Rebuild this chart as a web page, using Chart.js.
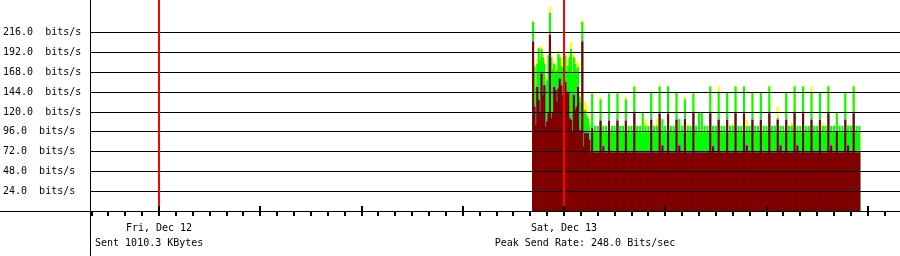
<!DOCTYPE html>
<html>
<head>
<meta charset="utf-8">
<script src="https://cdn.jsdelivr.net/npm/chart.js@4/dist/chart.umd.min.js"></script>
<style>
  body { margin: 0; background: #fff; }
  canvas { display: block; }
</style>
</head>
<body>
<canvas id="rate-chart" width="900" height="256"></canvas>
<script>
// hours relative to Fri, Dec 12 00:00
var firstSampleHour = 22 + 10 / 60;
var sampleStepHours = 5 / 60;
var dayTicks = [0, 24];
var dayLabels = ["Fri, Dec 12", "Sat, Dec 13"];
var yTicks = [24, 48, 72, 96, 120, 144, 168, 192, 216];

// dark red layer (bits/s), one value per 5 minute sample
var redRate = [
  205,126,104,150,134,120,166,140,152,102,108,118,
  213,112,118,150,146,132,148,160,152,140,150,156,
  142,144,112,110,96,140,122,126,150,98,96,205,
  78,94,94,94,86,70.5,100,70.5,70.5,70.5,70.5,70.5,
  109,70.5,78,70.5,70.5,70.5,109,70.5,70.5,70.5,70.5,70.5,
  109,70.5,70.5,70.5,70.5,70.5,109,70.5,70.5,70.5,70.5,70.5,
  118,70.5,70.5,70.5,70.5,70.5,70.5,70.5,70.5,70.5,70.5,70.5,
  110,70.5,70.5,70.5,70.5,70.5,117.5,70.5,79,70.5,70.5,70.5,
  117.5,70.5,70.5,70.5,70.5,70.5,110,70.5,79,70.5,70.5,70.5,
  111,70.5,70.5,70.5,70.5,70.5,118,70.5,70.5,70.5,70.5,70.5,
  70.5,70.5,70.5,70.5,70.5,70.5,118,70.5,78,70.5,70.5,70.5,
  110,70.5,70.5,70.5,70.5,70.5,110,70.5,70.5,70.5,70.5,70.5,
  118,70.5,70.5,70.5,70.5,70.5,118,70.5,79,70.5,70.5,70.5,
  110,70.5,70.5,70.5,70.5,70.5,110,70.5,70.5,70.5,70.5,70.5,
  118,70.5,70.5,70.5,70.5,70.5,110,70.5,79,70.5,70.5,70.5,
  110,70.5,70.5,70.5,70.5,70.5,118,70.5,79,70.5,70.5,70.5,
  118,70.5,70.5,70.5,70.5,70.5,110,70.5,70.5,70.5,70.5,70.5,
  110,70.5,70.5,70.5,70.5,70.5,118,70.5,79,70.5,70.5,70.5,
  96,70.5,70.5,70.5,70.5,70.5,110,70.5,79,70.5,70.5,70.5,
  118,70.5,70.5,70.5,70.5
];

// purple layer
var purpleRate = [
  207,128,106,152,136,122,168,142,154,104,110,120,
  215,114,120,152,148,134,150,162,154,142,152,158,
  144,146,114,112,98,142,124,128,152,100,98,207,
  80,96,96,96,88,72,102,72,72,72,72,72,
  111,72,80,72,72,72,111,72,72,72,72,72,
  111,72,72,72,72,72,111,72,72,72,72,72,
  121,72,72,72,72,72,72,72,72,72,72,72,
  112,72,72,72,72,72,120,72,81,72,72,72,
  120,72,72,72,72,72,112,72,81,72,72,72,
  113,72,72,72,72,72,120,72,72,72,72,72,
  72,72,72,72,72,72,120,72,80,72,72,72,
  112,72,72,72,72,72,112,72,72,72,72,72,
  120,72,72,72,72,72,120,72,81,72,72,72,
  112,72,72,72,72,72,112,72,72,72,72,72,
  120,72,72,72,72,72,112,72,81,72,72,72,
  112,72,72,72,72,72,120,72,81,72,72,72,
  120,72,72,72,72,72,112,72,72,72,72,72,
  112,72,72,72,72,72,120,72,81,72,72,72,
  98,72,72,72,72,72,112,72,81,72,72,72,
  120,72,72,72,72
];

// green layer
var greenRate = [
  229,175,150,178,197,182,196,186,178,150,158,188,
  240,186,172,178,168,170,190,186,176,174,172,188,
  170,176,186,196,166,186,178,170,174,138,132,229,
  120,122,116,112,104,94.5,142,94.5,103,94.5,103,94.5,
  135,94.5,103,94.5,103,94.5,142,94.5,103,94.5,103,94.5,
  142,94.5,103,94.5,103,94.5,135,94.5,103,94.5,103,94.5,
  150,94.5,103,94.5,103,94.5,119.5,94.5,103,94.5,103,94.5,
  143.5,94.5,103,94.5,103,94.5,150.5,94.5,111,94.5,103,94.5,
  150.5,94.5,103,94.5,103,94.5,143,94.5,111,94.5,103,94.5,
  135,94.5,103,94.5,103,94.5,142,94.5,103,94.5,119.5,94.5,
  119.5,94.5,103,94.5,103,94.5,150.5,94.5,103,94.5,103,94.5,
  144.3,94.5,103,94.5,103,94.5,143,94.5,103,94.5,103,94.5,
  150.5,94.5,103,94.5,103,94.5,150.5,94.5,103,94.5,103,94.5,
  143,94.5,103,94.5,103,94.5,143,94.5,103,94.5,103,94.5,
  150.5,94.5,103,94.5,103,94.5,112,94.5,103,94.5,103,94.5,
  143,94.5,103,94.5,103,94.5,150.5,94.5,103,94.5,103,94.5,
  150.5,94.5,103,94.5,103,94.5,144.3,94.5,103,94.5,103,94.5,
  143,94.5,103,94.5,103,94.5,150.5,94.5,103,94.5,103,94.5,
  119.5,94.5,103,94.5,103,94.5,143,94.5,103,94.5,103,94.5,
  150.5,94.5,103,94.5,103
];

// yellow layer
var yellowRate = [
  231,178,156,183,199,186,199,190,184,156,162,190,
  247,192,180,181,174,176,194,188,182,186,178,192,
  176,182,190,205,172,190,184,176,180,142,140,231,
  128,132,128,118,108,96,143,96,96,96,96,96,
  137,96,96,96,96,96,143,96,96,96,96,96,
  143,96,96,96,96,96,138,96,96,96,96,96,
  152,96,96,96,96,96,120,96,111,96,96,96,
  145,96,96,96,111,96,152,96,96,96,96,96,
  152,96,96,96,96,96,145,96,96,96,96,96,
  138,96,105,96,96,96,143,96,96,96,120,96,
  120,96,96,96,96,96,152,96,96,96,96,96,
  151,96,96,96,96,96,144,96,96,96,106,96,
  152,96,96,96,96,96,152,96,110,96,96,96,
  144,96,96,96,96,96,144,96,96,96,96,96,
  152,96,96,96,96,96,127,96,96,96,96,96,
  144,96,96,96,107,96,152,96,96,96,96,96,
  152,96,96,96,96,96,151,96,96,96,96,96,
  144,96,106,96,96,96,152,96,96,96,96,96,
  120,96,96,96,96,96,144,96,104,96,96,96,
  152,96,96,96,96
];

var sampleHours = redRate.map(function (v, i) { return firstSampleHour + i * sampleStepHours; });

function series(values) {
  return values.map(function (v, i) { return { x: sampleHours[i], y: v }; });
}

var monoFont = { family: "DejaVu Sans Mono", size: 10 };

var decorations = {
  id: 'decorations',
  afterDraw: function (chart) {
    var ctx = chart.ctx;
    var xs = chart.scales.x;
    var area = chart.chartArea;
    ctx.save();
    // midnight markers
    ctx.fillStyle = '#ff0000';
    dayTicks.forEach(function (h) {
      var px = Math.round(xs.getPixelForValue(h));
      ctx.fillRect(px - 1, 0, 2, area.bottom - 5);
    });
    // axes
    ctx.fillStyle = '#000000';
    ctx.fillRect(0, area.bottom, chart.width, 1);
    ctx.fillRect(area.left, 0, 1, chart.height);
    // hour ticks, long ones every 6 hours
    for (var h = Math.ceil(xs.min); h <= xs.max; h++) {
      var px = Math.round(xs.getPixelForValue(h));
      if (h % 6 === 0) {
        ctx.fillRect(px - 1, area.bottom - 5, 2, 10);
      } else {
        ctx.fillRect(px - 1, area.bottom + 1, 2, 4);
      }
    }
    // footer
    ctx.font = '10px "DejaVu Sans Mono"';
    ctx.textBaseline = 'middle';
    ctx.textAlign = 'left';
    ctx.fillText('Sent 1010.3 KBytes', 95, 243);
    ctx.textAlign = 'center';
    ctx.fillText('Peak Send Rate: 248.0 Bits/sec', 585, 243);
    ctx.restore();
  }
};

function noPadding(s) {
  s.paddingTop = 0;
  s.paddingBottom = 0;
  s.paddingLeft = 0;
  s.paddingRight = 0;
}

new Chart(document.getElementById("rate-chart"), {
  type: 'bar',
  data: {
    datasets: [{
      data: series(redRate),
      backgroundColor: "#800000",
      order: 1
    }, {
      data: series(purpleRate),
      backgroundColor: "#8080ff",
      order: 2
    }, {
      data: series(greenRate),
      backgroundColor: "#00ff00",
      order: 3
    }, {
      data: series(yellowRate),
      backgroundColor: "#ffff00",
      order: 4
    }]
  },
  options: {
    responsive: false,
    animation: false,
    devicePixelRatio: 1,
    datasets: {
      bar: { grouped: false, barPercentage: 1, categoryPercentage: 1, borderWidth: 0 }
    },
    layout: { autoPadding: false, padding: { left: 3, top: 0, right: 0, bottom: 0 } },
    plugins: { legend: { display: false }, tooltip: { enabled: false } },
    scales: {
      x: {
        type: 'linear',
        offset: false,
        min: -69 / 16.875,
        max: 48 - 69 / 16.875,
        afterBuildTicks: function (s) { s.ticks = dayTicks.map(function (v) { return { value: v }; }); },
        afterFit: function (s) { s.height = 45; noPadding(s); },
        grid: { display: false, drawTicks: false },
        border: { display: false },
        ticks: {
          autoSkip: false,
          maxRotation: 0,
          padding: 11,
          color: '#000',
          font: monoFont,
          callback: function (v) { return dayLabels[dayTicks.indexOf(v)] || ''; }
        }
      },
      y: {
        min: 0,
        max: 255.9,
        afterBuildTicks: function (s) { s.ticks = yTicks.map(function (v) { return { value: v }; }); },
        afterFit: function (s) { s.width = 87; noPadding(s); },
        grid: { color: '#000', lineWidth: 1, drawTicks: false, z: 1 },
        border: { display: false },
        ticks: {
          crossAlign: 'far',
          padding: 0,
          color: '#000',
          font: monoFont,
          callback: function (v) { return v.toFixed(1) + '  bits/s'; }
        }
      }
    }
  },
  plugins: [decorations]
});
</script>
</body>
</html>
